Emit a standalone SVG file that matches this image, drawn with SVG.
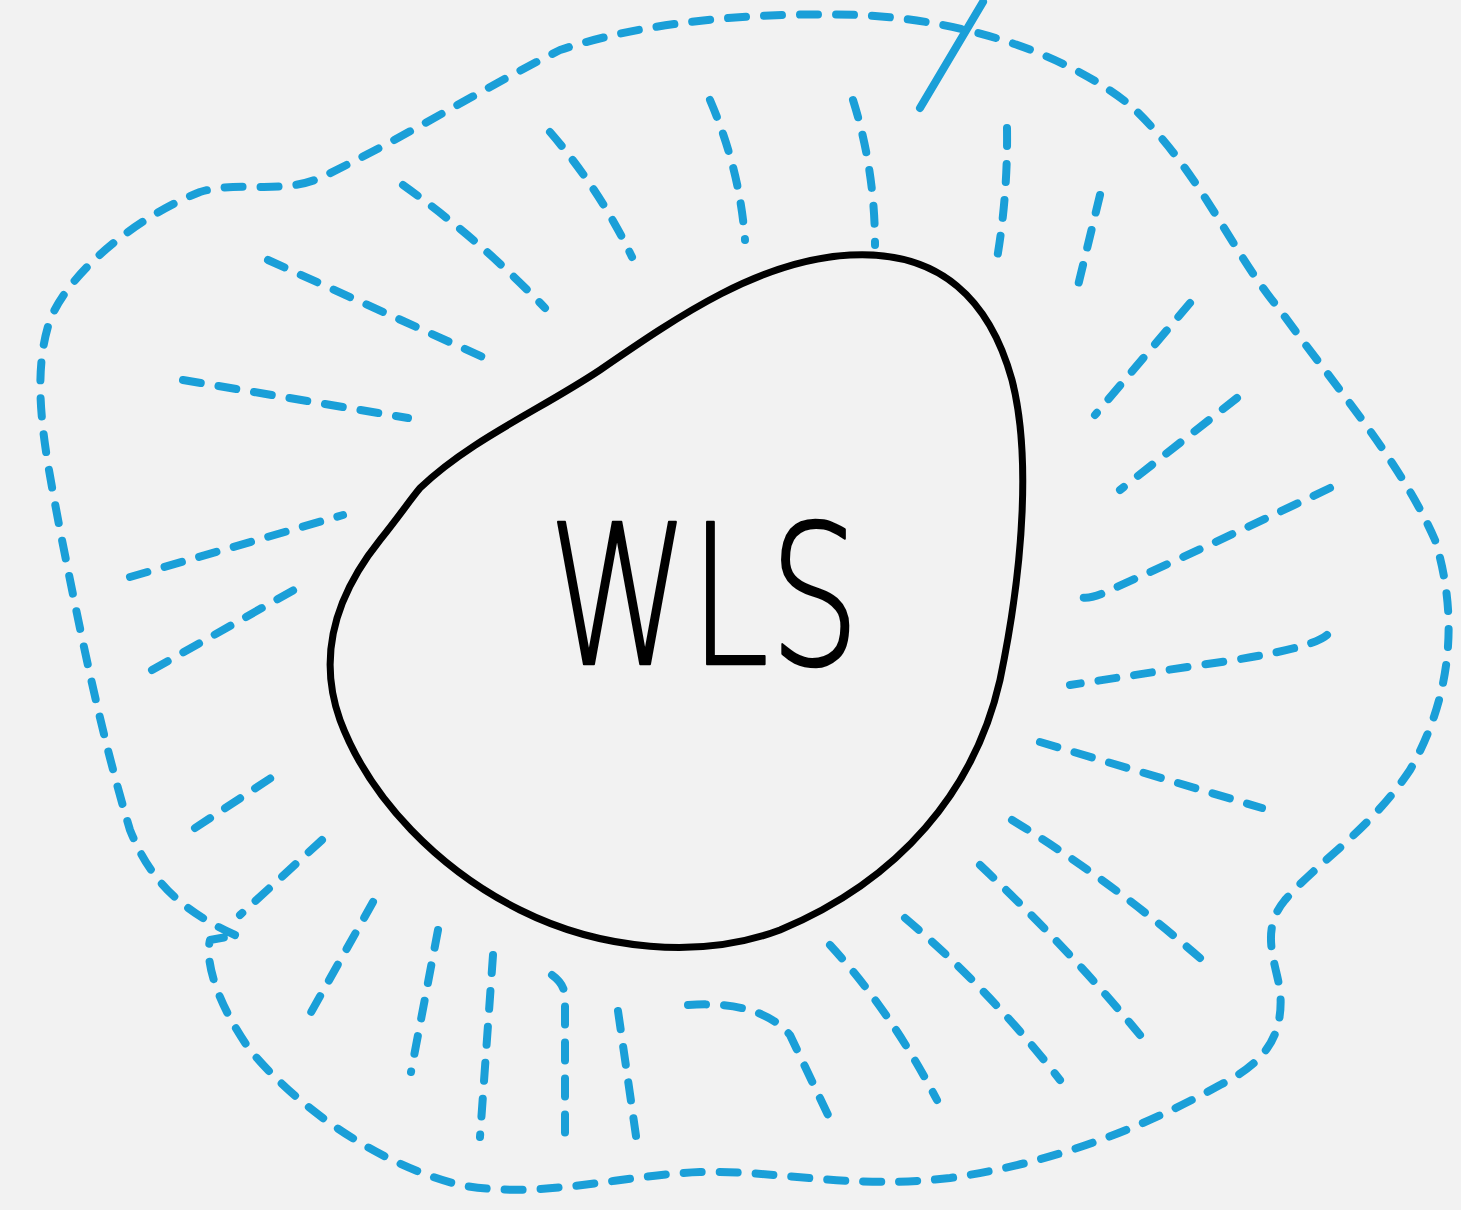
<svg xmlns="http://www.w3.org/2000/svg" width="1461" height="1210" viewBox="0 0 1461 1210">
<style>
.bg{fill:#f2f2f2}
.d{fill:none;stroke:#1a9fd8;stroke-width:8;stroke-linecap:round;stroke-linejoin:round;stroke-dasharray:18 18}
.s{fill:none;stroke:#1a9fd8;stroke-width:8;stroke-linecap:round}
.egg{fill:none;stroke:#000;stroke-width:7;stroke-linejoin:round}
.lbl{font-family:"DejaVu Sans","Liberation Sans",sans-serif;font-weight:200;font-size:195px;fill:#000;stroke:#000;stroke-width:2.5;stroke-linejoin:round}
</style>
<rect class="bg" x="0" y="0" width="1461" height="1210"/>
<g id="outer">
<path class="d" d="M 235 935 C 180 910, 150 880, 130 830 C 100 730, 80 630, 60 530 C 45 450, 30 380, 50 320 C 70 270, 140 215, 200 192 C 240 180, 280 195, 320 178 C 400 140, 480 90, 560 50 C 650 20, 760 12, 860 15 C 960 20, 1060 50, 1130 105 C 1200 170, 1230 250, 1280 310 C 1330 380, 1400 460, 1435 540 C 1460 620, 1450 700, 1410 770 C 1370 830, 1320 860, 1285 900 C 1260 930, 1275 960, 1280 990 C 1285 1040, 1260 1065, 1220 1085 C 1130 1135, 1040 1165, 950 1178 C 850 1190, 780 1170, 700 1172 C 620 1175, 540 1200, 460 1185 C 380 1165, 300 1110, 250 1050 C 215 1000, 205 960, 210 940 L 232 936"/>
</g>
<g id="connectors">
<path class="s" d="M 920 108 L 983 2"/>
<path class="d" d="M 268 260 L 485 358"/>
<path class="d" d="M 183 380 L 408 418"/>
<path class="d" d="M 130 577 L 343 515"/>
<path class="d" d="M 152 670 L 308 582"/>
<path class="d" d="M 195 828 L 280 772"/>
<path class="d" d="M 322 840 L 240 915"/>
<path class="d" d="M 403 185 Q 480 240 545 308"/>
<path class="d" d="M 550 132 Q 600 190 632 257"/>
<path class="d" d="M 710 100 Q 740 170 745 240"/>
<path class="d" d="M 853 100 Q 875 170 875 245"/>
<path class="d" d="M 1007 128 Q 1008 200 995 270"/>
<path class="d" d="M 1100 195 L 1075 298"/>
<path class="d" d="M 1190 303 L 1095 415"/>
<path class="d" d="M 1237 398 L 1120 490"/>
<path class="d" d="M 1330 488 Q 1200 550 1110 590 Q 1090 600 1080 597"/>
<path class="d" d="M 1327 635 Q 1310 650 1200 665 L 1070 685"/>
<path class="d" d="M 1040 742 L 1262 808"/>
<path class="d" d="M 1012 820 Q 1110 880 1200 958"/>
<path class="d" d="M 980 865 Q 1070 950 1140 1035"/>
<path class="d" d="M 905 918 Q 990 990 1060 1080"/>
<path class="d" d="M 830 945 Q 890 1010 937 1100"/>
<path class="d" d="M 688 1005 Q 760 1000 790 1035 L 828 1115"/>
<path class="d" d="M 618 1011 Q 628 1080 637 1143"/>
<path class="d" d="M 552 975 Q 566 985 565 1000 L 565 1143"/>
<path class="d" d="M 493 955 L 480 1137"/>
<path class="d" d="M 438 930 L 411 1072"/>
<path class="d" d="M 373 902 L 305 1023"/>
</g>
<g id="wls">
<path class="egg" d="M 850 255 C 940 250, 990 300, 1012 380 C 1030 450, 1025 560, 1000 680 C 975 790, 900 880, 780 930 C 700 960, 600 950, 520 910 C 440 870, 370 800, 340 720 C 315 650, 340 590, 380 540 C 400 515, 410 500, 420 488 C 470 440, 540 410, 600 370 C 680 315, 760 260, 850 255 Z"/>
<text class="lbl" x="704" y="664" text-anchor="middle" textLength="312" lengthAdjust="spacingAndGlyphs">WLS</text>
</g>
</svg>
